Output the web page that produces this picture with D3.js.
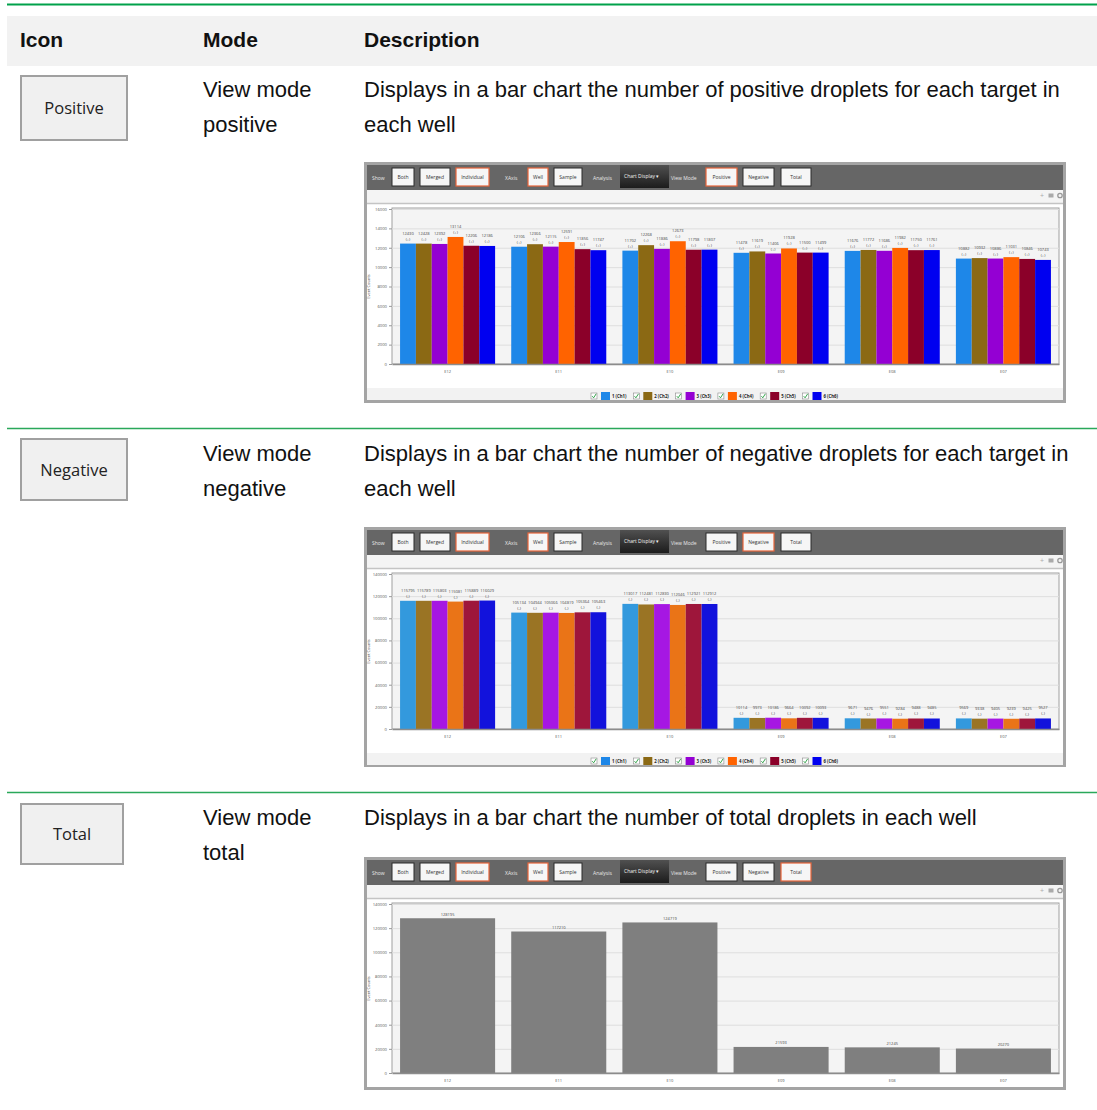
<!DOCTYPE html>
<html>
<head>
<meta charset="utf-8">
<script src="https://cdn.jsdelivr.net/npm/d3@7"></script>
<style>
  body { margin: 0; background: #fff; }
  svg { display: block; }
  .doc { font-family: "Liberation Sans", Arial, sans-serif; fill: #111; }
  .ui { font-family: "Open Sans", "Noto Sans", sans-serif; }
</style>
</head>
<body>
<script>
// Data
var wells = ["E12", "E11", "E10", "E09", "E08", "E07"];
var channels = ["1 (Ch1)", "2 (Ch2)", "3 (Ch3)", "4 (Ch4)", "5 (Ch5)", "6 (Ch6)"];

// one row per well, one value per channel
var positiveCounts = [
  [12430, 12428, 12392, 13114, 12206, 12186],
  [12106, 12366, 12115, 12591, 11856, 11747],
  [11702, 12268, 11886, 12673, 11798, 11807],
  [11478, 11619, 11406, 11928, 11500, 11499],
  [11676, 11772, 11686, 11982, 11750, 11761],
  [10882, 10932, 10886, 11031, 10846, 10743]
];
var negativeCounts = [
  [115795, 115789, 115803, 115081, 115889, 116029],
  [105134, 104944, 105066, 104819, 105364, 105463],
  [113017, 112481, 112830, 112046, 112921, 112912],
  [10114, 9973, 10186, 9664, 10092, 10093],
  [9671, 9476, 9551, 9284, 9488, 9485],
  [9569, 9338, 9405, 9239, 9425, 9527]
];
var totalCounts = [128195, 117210, 124719, 21593, 21245, 20270];

var positiveTicks = [0, 2000, 4000, 6000, 8000, 10000, 12000, 14000, 16000];
var countTicks = [0, 20000, 40000, 60000, 80000, 100000, 120000, 140000];

var positiveColors = ["#1e87e8", "#8b6914", "#9400d3", "#ff6300", "#8b0029", "#0000f0"];
var negativeColors = ["#3399dd", "#9a7424", "#a617e3", "#ea7417", "#9e163b", "#1212dc"];
var totalColor = "#7f7f7f";

var headers = ["Icon", "Mode", "Description"];
var rowIcons = ["Positive", "Negative", "Total"];
var rowModes = [["View mode", "positive"], ["View mode", "negative"], ["View mode", "total"]];
var rowDescriptions = [
  ["Displays in a bar chart the number of positive droplets for each target in", "each well"],
  ["Displays in a bar chart the number of negative droplets for each target in", "each well"],
  ["Displays in a bar chart the number of total droplets in each well"]
];

// page
var W = 1097, H = 1110;
var svg = d3.select("body").append("svg")
  .attr("width", W)
  .attr("height", H);

svg.append("rect").attr("width", W).attr("height", H).attr("fill", "#fff");

// table header
svg.append("line")
  .attr("x1", 7).attr("x2", W).attr("y1", 4.5).attr("y2", 4.5)
  .attr("stroke", "#00a14b").attr("stroke-width", 2);
svg.append("rect")
  .attr("x", 7).attr("y", 16).attr("width", W - 7).attr("height", 50)
  .attr("fill", "#f2f2f2");
var headerX = [20, 203, 364];
svg.selectAll("text.hdr").data(headers).enter().append("text")
  .attr("class", "doc hdr")
  .attr("x", function (d, i) { return headerX[i]; })
  .attr("y", 47)
  .style("font-size", "21px")
  .style("font-weight", "bold")
  .text(function (d) { return d; });

// rows: layout only
var rowLayout = [
  { iconBox: [20, 75, 108, 66], base: 97, panelTop: 162, panelH: 241, sep: null },
  { iconBox: [20, 438, 108, 63], base: 461, panelTop: 527, panelH: 240, sep: 428.5 },
  { iconBox: [20, 803, 104, 62], base: 825, panelTop: 857, panelH: 233, sep: 792.5 }
];

rowLayout.forEach(function (r, i) {
  if (r.sep) {
    svg.append("line")
      .attr("x1", 7).attr("x2", W).attr("y1", r.sep).attr("y2", r.sep)
      .attr("stroke", "#2aa85a").attr("stroke-width", 1.5);
  }
  var b = r.iconBox;
  svg.append("rect")
    .attr("x", b[0] + 1).attr("y", b[1] + 1).attr("width", b[2] - 2).attr("height", b[3] - 2)
    .attr("fill", "#f0f0f0").attr("stroke", "#a0a0a0").attr("stroke-width", 2);
  svg.append("text")
    .attr("class", "ui")
    .attr("x", b[0] + b[2] / 2).attr("y", b[1] + b[3] / 2 + 6)
    .attr("text-anchor", "middle")
    .style("font-size", "16.5px")
    .attr("fill", "#222")
    .text(rowIcons[i]);

  rowModes[i].forEach(function (t, k) {
    svg.append("text").attr("class", "doc")
      .attr("x", 203).attr("y", r.base + k * 35)
      .style("font-size", "22px").text(t);
  });
  rowDescriptions[i].forEach(function (t, k) {
    svg.append("text").attr("class", "doc")
      .attr("x", 364).attr("y", r.base + k * 35)
      .style("font-size", "22px").text(t);
  });
});

// screenshot panels
var toolbarButtons = [
  { label: "Both", x1: 392, x2: 414 },
  { label: "Merged", x1: 420, x2: 450 },
  { label: "Individual", x1: 456, x2: 489, on: true },
  { label: "Well", x1: 528, x2: 548, on: true },
  { label: "Sample", x1: 554, x2: 582 },
  { label: "Positive", x1: 706, x2: 737, mode: "pos" },
  { label: "Negative", x1: 743, x2: 774, mode: "neg" },
  { label: "Total", x1: 781, x2: 811, mode: "tot" }
];
var toolbarLabels = [
  { label: "Show", x: 372 },
  { label: "XAxis", x: 505 },
  { label: "Analysis", x: 593 },
  { label: "View Mode", x: 671 }
];

function drawPanel(cfg) {
  var x0 = 364, w = 702, T = cfg.top, h = cfg.height;
  var g = svg.append("g").attr("class", "ui");

  // frame, toolbar, strip
  g.append("rect").attr("x", x0).attr("y", T).attr("width", w).attr("height", h).attr("fill", "#a4a4a4");
  g.append("rect").attr("x", x0 + 3).attr("y", T + 3).attr("width", w - 6).attr("height", 25).attr("fill", "#666");
  g.append("rect").attr("x", x0 + 3).attr("y", T + 28).attr("width", w - 6).attr("height", h - 31).attr("fill", "#fff");
  g.append("rect").attr("x", x0 + 3).attr("y", T + 28).attr("width", w - 6).attr("height", 13).attr("fill", "#f4f4f4");
  g.append("line").attr("x1", x0 + 3).attr("x2", x0 + w - 3).attr("y1", T + 41.5).attr("y2", T + 41.5)
    .attr("stroke", "#c4c4c4").attr("stroke-width", 1.5);

  toolbarLabels.forEach(function (l) {
    g.append("text").attr("x", l.x).attr("y", T + 17.5)
      .attr("fill", "#e8e8e8").style("font-size", "5px").text(l.label);
  });
  toolbarButtons.forEach(function (b) {
    var sel = b.on || b.mode === cfg.mode;
    g.append("rect").attr("x", b.x1).attr("y", T + 6).attr("width", b.x2 - b.x1).attr("height", 18)
      .attr("fill", "#f6f6f6").attr("stroke", sel ? "#e8643a" : "#2a2a2a").attr("stroke-width", sel ? 1.2 : 1);
    g.append("text").attr("x", (b.x1 + b.x2) / 2).attr("y", T + 17)
      .attr("text-anchor", "middle").attr("fill", "#333").style("font-size", "5px").text(b.label);
  });
  var grad = svg.append("defs").append("linearGradient")
    .attr("id", "cd" + cfg.mode).attr("x1", 0).attr("x2", 0).attr("y1", 0).attr("y2", 1);
  grad.append("stop").attr("offset", 0).attr("stop-color", "#505050");
  grad.append("stop").attr("offset", 1).attr("stop-color", "#1c1c1c");
  g.append("rect").attr("x", 620).attr("y", T + 3).attr("width", 49).attr("height", 23)
    .attr("fill", "url(#cd" + cfg.mode + ")");
  g.append("text").attr("x", 624).attr("y", T + 16).attr("fill", "#f2f2f2")
    .style("font-size", "5px").text("Chart Display  \u25BE");

  // strip icons
  g.append("text").attr("x", 1042).attr("y", T + 36).attr("text-anchor", "middle")
    .attr("fill", "#aaa").style("font-size", "7px").text("+");
  g.append("rect").attr("x", 1048.5).attr("y", T + 31.5).attr("width", 5).attr("height", 4).attr("fill", "#aaa");
  g.append("circle").attr("cx", 1060).attr("cy", T + 33.5).attr("r", 2.2)
    .attr("fill", "none").attr("stroke", "#999").attr("stroke-width", 1.3);

  // plot
  var plotL = 392, plotR = 1059, top = T + 47, zero = T + cfg.zeroOff;
  var y = d3.scaleLinear().domain([0, cfg.ymax]).range([zero, top]);
  var x = d3.scaleBand().domain(wells).range([plotL, plotR])
    .paddingInner(0.145).paddingOuter(0.0725);

  g.append("rect").attr("x", plotL).attr("y", top - 1).attr("width", plotR - plotL).attr("height", zero - top + 1)
    .attr("fill", "#f4f4f4").attr("stroke", "#a0a0a0").attr("stroke-width", 1);

  var grid = g.append("g").attr("transform", "translate(" + plotL + ",0)")
    .call(d3.axisLeft(y).tickValues(cfg.ticks).tickSize(-(plotR - plotL)).tickFormat(""));
  grid.select(".domain").remove();
  grid.selectAll("line").attr("stroke", "#dedede");

  var yAxis = g.append("g").attr("transform", "translate(" + plotL + ",0)")
    .call(d3.axisLeft(y).tickValues(cfg.ticks).tickSize(3).tickPadding(2).tickFormat(d3.format("d")));
  yAxis.select(".domain").remove();
  yAxis.selectAll("line").attr("stroke", "#999");
  yAxis.selectAll("text").attr("fill", "#555").style("font-size", "4.2px").style("font-family", "\"Open Sans\", sans-serif");

  g.append("text")
    .attr("transform", "translate(370," + ((top + zero) / 2) + ") rotate(-90)")
    .attr("text-anchor", "middle").attr("fill", "#555").style("font-size", "4px")
    .text("Event Counts");

  if (cfg.grouped) {
    var xc = d3.scaleBand().domain(channels).range([0, x.bandwidth()]);
    var groups = g.selectAll("g.well").data(cfg.series).enter().append("g")
      .attr("class", "well")
      .attr("transform", function (d, i) { return "translate(" + x(wells[i]) + ",0)"; });
    groups.selectAll("rect").data(function (d) { return d; }).enter().append("rect")
      .attr("x", function (d, j) { return xc(channels[j]); })
      .attr("y", function (d) { return y(d); })
      .attr("width", xc.bandwidth())
      .attr("height", function (d) { return zero - y(d); })
      .attr("fill", function (d, j) { return cfg.colors[j]; });
    groups.selectAll("text.v").data(function (d) { return d; }).enter().append("text")
      .attr("class", "v")
      .attr("x", function (d, j) { return xc(channels[j]) + xc.bandwidth() / 2; })
      .attr("y", function (d) { return y(d) - 9; })
      .attr("text-anchor", "middle").attr("fill", "#444").style("font-size", "4px")
      .text(function (d) { return d; });
    groups.selectAll("text.s").data(function (d) { return d; }).enter().append("text")
      .attr("class", "s")
      .attr("x", function (d, j) { return xc(channels[j]) + xc.bandwidth() / 2; })
      .attr("y", function (d) { return y(d) - 3; })
      .attr("text-anchor", "middle").attr("fill", "#444").style("font-size", "4px")
      .text(cfg.sign);
  } else {
    g.selectAll("rect.tot").data(cfg.series).enter().append("rect")
      .attr("class", "tot")
      .attr("x", function (d, i) { return x(wells[i]); })
      .attr("y", function (d) { return y(d); })
      .attr("width", x.bandwidth())
      .attr("height", function (d) { return zero - y(d); })
      .attr("fill", totalColor);
    g.selectAll("text.tv").data(cfg.series).enter().append("text")
      .attr("class", "tv")
      .attr("x", function (d, i) { return x(wells[i]) + x.bandwidth() / 2; })
      .attr("y", function (d) { return y(d) - 2.5; })
      .attr("text-anchor", "middle").attr("fill", "#444").style("font-size", "4px")
      .text(function (d) { return d; });
  }

  var xAxis = g.append("g").attr("transform", "translate(0," + zero + ")")
    .call(d3.axisBottom(x).tickSize(0).tickPadding(6));
  xAxis.select(".domain").attr("stroke", "#8c8c8c").attr("stroke-width", 1.5);
  xAxis.selectAll("text").attr("fill", "#555").style("font-size", "4px").style("font-family", "\"Open Sans\", sans-serif");

  // legend
  if (cfg.legend) {
    g.append("rect").attr("x", x0 + 3).attr("y", T + 226).attr("width", w - 6).attr("height", 12)
      .attr("fill", "#f2f2f2");
    var lg = g.selectAll("g.leg").data(channels).enter().append("g")
      .attr("class", "leg")
      .attr("transform", function (d, i) { return "translate(" + (591 + i * 42.3) + "," + (T + 234) + ")"; });
    lg.append("rect").attr("x", 0).attr("y", -3).attr("width", 6).attr("height", 6)
      .attr("fill", "#fff").attr("stroke", "#8a8a8a").attr("stroke-width", 0.6);
    lg.append("path").attr("d", "M1.2,0.2 L2.6,1.8 L5.2,-2.2")
      .attr("fill", "none").attr("stroke", "#1f9b3a").attr("stroke-width", 0.9);
    lg.append("rect").attr("x", 10).attr("y", -4).attr("width", 9).attr("height", 8)
      .attr("fill", function (d, i) { return positiveColors[i]; });
    lg.append("text").attr("x", 21).attr("y", 1.5)
      .attr("fill", "#222").style("font-size", "4.3px").style("font-weight", "bold")
      .text(function (d) { return d; });
  }
}

drawPanel({ top: 162, height: 241, zeroOff: 202, mode: "pos", ymax: 16000, ticks: positiveTicks,
  series: positiveCounts, colors: positiveColors, sign: "(+)", grouped: true, legend: true });
drawPanel({ top: 527, height: 240, zeroOff: 202, mode: "neg", ymax: 140000, ticks: countTicks,
  series: negativeCounts, colors: negativeColors, sign: "(-)", grouped: true, legend: true });
drawPanel({ top: 857, height: 233, zeroOff: 216, mode: "tot", ymax: 140000, ticks: countTicks,
  series: totalCounts, grouped: false, legend: false });
</script>
</body>
</html>
